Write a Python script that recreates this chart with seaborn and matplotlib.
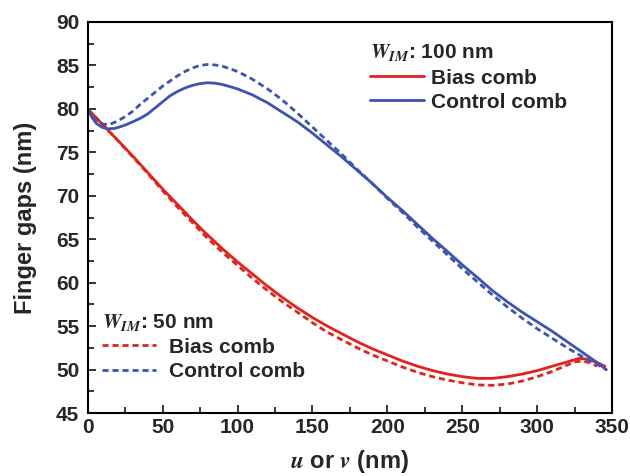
import seaborn as sns
import matplotlib.pyplot as plt
from matplotlib.ticker import MultipleLocator

# === Data ===
# W_IM = 100 nm (solid)
bias_100_x = [0, 10, 20, 30, 40, 50, 60, 70, 80, 90, 100, 110, 120, 130, 140, 150, 160, 170, 180, 190,
              200, 210, 220, 230, 240, 250, 260, 270, 280, 290, 300, 310, 320, 328, 334, 340, 345]
bias_100_y = [80, 78.2, 76.4, 74.6, 72.7, 70.8, 69.0, 67.2, 65.5, 63.9, 62.4, 61.0, 59.6, 58.3, 57.1, 56.0,
              55.0, 54.1, 53.2, 52.4, 51.7, 51.0, 50.4, 49.9, 49.5, 49.2, 49.0, 49.0, 49.2, 49.5, 49.9,
              50.4, 50.9, 51.3, 51.2, 50.8, 50.4]

ctrl_100_x = [0, 3, 6, 10, 14, 18, 22, 26, 30, 35, 40, 45, 50, 55, 60, 65, 70, 75, 80, 85, 90, 100, 110,
              120, 130, 140, 150, 160, 170, 180, 190, 200, 210, 220, 230, 240, 250, 260, 270, 280, 290,
              300, 310, 320, 330, 340, 346]
ctrl_100_y = [80, 79.0, 78.3, 77.85, 77.7, 77.75, 77.95, 78.2, 78.5, 78.9, 79.4, 80.1, 80.8, 81.5, 82.0,
              82.4, 82.7, 82.9, 83.0, 82.95, 82.8, 82.3, 81.6, 80.7, 79.6, 78.5, 77.2, 75.8, 74.4, 72.9,
              71.4, 69.8, 68.3, 66.7, 65.1, 63.6, 62.05, 60.6, 59.1, 57.8, 56.6, 55.5, 54.4, 53.2, 52.0,
              50.8, 50.0]

# W_IM = 50 nm (dashed)
bias_50_x = [0, 10, 20, 30, 40, 50, 60, 70, 80, 90, 100, 110, 120, 130, 140, 150, 160, 170, 180, 190,
             200, 210, 220, 230, 240, 250, 260, 270, 280, 290, 300, 310, 318, 325, 330, 335, 340]
bias_50_y = [80, 78.2, 76.4, 74.5, 72.6, 70.6, 68.7, 66.9, 65.1, 63.5, 62.0, 60.5, 59.1, 57.8, 56.6, 55.4,
             54.3, 53.4, 52.5, 51.7, 51.0, 50.3, 49.7, 49.2, 48.8, 48.5, 48.25, 48.2, 48.35, 48.7, 49.2,
             49.8, 50.4, 50.9, 51.0, 50.8, 50.4]

ctrl_50_x = [0, 3, 6, 10, 13, 16, 20, 25, 30, 35, 40, 45, 50, 55, 60, 65, 70, 75, 80, 85, 90, 100, 110,
             120, 130, 140, 150, 160, 170, 180, 190, 200, 210, 220, 230, 240, 250, 260, 270, 280, 290,
             300, 310, 320, 330, 340, 346]
ctrl_50_y = [80, 79.2, 78.6, 78.25, 78.2, 78.3, 78.6, 79.1, 79.7, 80.5, 81.2, 81.9, 82.6, 83.2, 83.8,
             84.3, 84.7, 85.0, 85.1, 85.05, 84.9, 84.3, 83.4, 82.3, 81.0, 79.5, 77.9, 76.3, 74.7, 73.0,
             71.4, 69.7, 68.1, 66.4, 64.8, 63.2, 61.6, 60.1, 58.6, 57.2, 55.9, 54.7, 53.6, 52.5, 51.5,
             50.6, 50.0]

legend_labels = ['Bias comb', 'Control comb']
red = '#e3221c'
blue = '#3d53b2'
dash = (0, (2.2, 1.4))

sns.set_style("ticks")
plt.rcParams['font.family'] = ['Liberation Sans', 'DejaVu Sans']
plt.rcParams['font.weight'] = 'bold'
plt.rcParams['mathtext.fontset'] = 'stix'

fig = plt.figure(figsize=(6.3, 4.76), dpi=100)
ax = fig.add_axes([0.139, 0.132, 0.833, 0.822])

sns.lineplot(x=bias_100_x, y=bias_100_y, ax=ax, color=red, lw=2.0)
sns.lineplot(x=ctrl_100_x, y=ctrl_100_y, ax=ax, color=blue, lw=2.0)
sns.lineplot(x=bias_50_x, y=bias_50_y, ax=ax, color=red, lw=2.0, ls=dash)
sns.lineplot(x=ctrl_50_x, y=ctrl_50_y, ax=ax, color=blue, lw=2.0, ls=dash)
handles = ax.get_lines()

ax.set_xlim(0, 350)
ax.set_ylim(45, 90)
ax.xaxis.set_major_locator(MultipleLocator(50))
ax.xaxis.set_minor_locator(MultipleLocator(25))
ax.yaxis.set_major_locator(MultipleLocator(5))
ax.yaxis.set_minor_locator(MultipleLocator(2.5))
ax.tick_params(which='both', direction='in', top=False, right=False, width=1.3)
ax.tick_params(which='major', length=6, labelsize=15)
ax.tick_params(which='minor', length=4)
ax.tick_params(axis='y', which='major', pad=6)
for s in ax.spines.values():
    s.set_linewidth(1.5)
    s.set_color('black')

ax.set_xlabel(r'$\mathit{u}$ or $\mathit{v}$ (nm)', fontsize=17, fontweight='bold', labelpad=8)
ax.set_ylabel('Finger gaps (nm)', fontsize=17, fontweight='bold', labelpad=14)

leg_font = {'weight': 'bold', 'size': 15}
leg1 = ax.legend(handles=handles[:2], labels=legend_labels,
                 title=r'$W_{IM}$: 100 nm', loc='upper left', bbox_to_anchor=(0.51, 0.985),
                 frameon=False, prop=leg_font, alignment='left',
                 handlelength=2.6, handletextpad=0.35, labelspacing=0.25, borderpad=0.2)
leg1.get_title().set_fontsize(15)
leg1.get_title().set_fontweight('bold')
ax.add_artist(leg1)
leg2 = ax.legend(handles=handles[2:], labels=legend_labels,
                 title=r'$W_{IM}$: 50 nm', loc='lower left', bbox_to_anchor=(0.0, 0.045),
                 frameon=False, prop=leg_font, alignment='left',
                 handlelength=2.6, handletextpad=0.6, labelspacing=0.25, borderpad=0.2)
leg2.get_title().set_fontsize(15)
leg2.get_title().set_fontweight('bold')

plt.setp(ax.get_xticklabels() + ax.get_yticklabels(), fontweight='bold')

fig.savefig('out.png', dpi=100)
plt.close(fig)
